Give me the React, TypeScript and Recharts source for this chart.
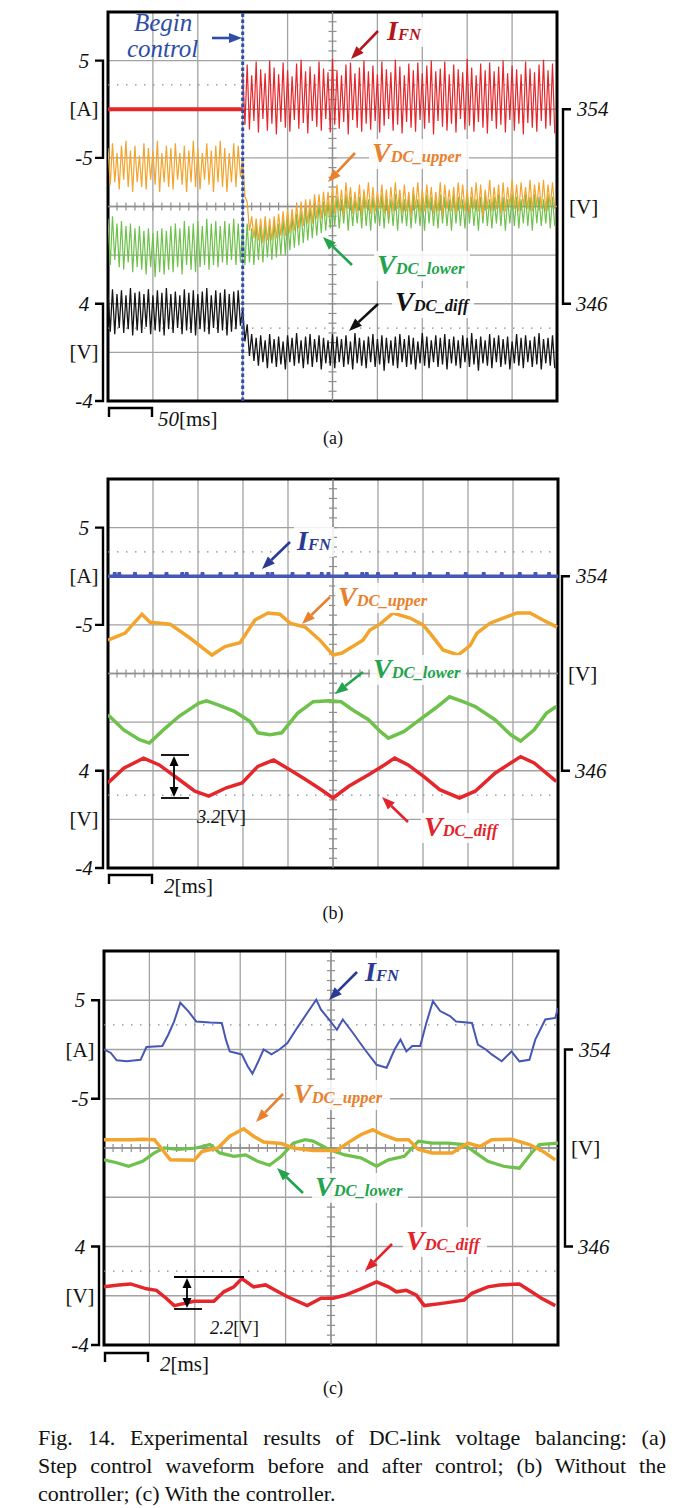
import React from "react";
import {
  LineChart,
  Line,
  XAxis,
  YAxis,
  CartesianGrid,
  ReferenceLine,
  ReferenceArea,
} from "recharts";

const SERIF = "'Liberation Serif', 'Times New Roman', serif";
const PAGE_W = 684;
const PAGE_H = 1508;

const GRID = "#a2a2a2";
const ORANGE = "#f3a42c";
const GREEN = "#6ec14b";
const RED = "#e5262b";
const BLUE = "#4657b6";
const BLACK = "#151515";

// ---------- (a) step control, 50 ms/div, one sample every 2.5 ms ----------
const A_STEP = 2.5;
const A_CONTROL = 150;

const upperBeforeA = [
  352.4, 350.9, 352.6, 351.0, 352.2, 350.7, 352.5, 351.1, 352.7, 350.8,
  352.3, 350.6, 352.5, 351.0, 352.1, 350.8, 352.6, 350.7, 352.4, 351.1,
  352.3, 350.9, 352.7, 350.6, 352.2, 351.0, 352.5, 350.8, 352.4, 350.7,
  352.6, 351.1, 352.2, 350.9, 352.5, 350.6, 352.3, 351.0, 352.7, 350.8,
  352.4, 350.7, 352.2, 351.1, 352.6, 350.9, 352.3, 350.6, 352.5, 351.0,
  352.7, 350.8, 352.4, 350.6, 352.2, 351.0, 352.6, 350.8, 352.5, 351.2,
];
const upperAfterA = [
  352.0, 350.4, 350.2, 349.0, 349.6, 348.7, 349.5, 348.6, 349.5, 348.5,
  349.6, 348.6, 349.5, 348.6, 349.6, 348.7, 349.7, 348.8, 349.8, 348.8,
  349.9, 348.9, 349.9, 349.0, 350.1, 349.1, 350.2, 349.2, 350.3, 349.3,
  350.3, 349.3, 350.5, 349.5, 350.5, 349.5, 350.6, 349.6, 350.6, 349.6,
  350.8, 349.7, 350.9, 349.8, 350.7, 349.6, 351.0, 349.9, 350.8, 349.7,
  350.6, 349.8, 350.9, 349.6, 350.7, 349.9, 351.0, 349.7, 350.8, 349.8,
  350.6, 349.9, 350.9, 349.7, 350.7, 349.6, 350.8, 349.8, 351.0, 349.9,
  350.7, 349.7, 350.9, 349.8, 350.6, 349.6, 350.8, 349.9, 351.0, 349.7,
  350.7, 349.8, 350.9, 349.9, 350.8, 349.7, 350.6, 349.8, 351.0, 349.6,
  350.9, 349.9, 350.7, 349.8, 350.8, 349.7, 351.0, 349.9, 350.9, 349.8,
  350.7, 349.7, 350.8, 349.9, 351.0, 349.8, 350.9, 349.6, 350.7, 349.9,
  351.1, 349.8, 350.8, 349.9, 350.9, 349.7, 351.0, 349.8, 350.8, 350.0,
  351.1, 349.9, 350.9, 349.8, 351.0, 350.0, 350.8, 349.9, 351.1, 349.8,
  350.9, 350.0, 351.0, 349.9, 351.1, 349.8, 350.9, 350.0, 351.0, 349.9,
];
const lowerBeforeA = [
  349.5, 347.6, 349.6, 347.8, 349.3, 347.5, 349.4, 347.4, 349.2, 347.7,
  349.3, 347.3, 349.1, 347.5, 349.2, 347.4, 349.0, 347.2, 349.1, 347.5,
  348.9, 347.1, 349.0, 347.3, 349.1, 347.2, 349.0, 347.4, 349.2, 347.3,
  349.3, 347.5, 349.1, 347.2, 349.4, 347.6, 349.2, 347.4, 349.3, 347.3,
  349.4, 347.5, 349.2, 347.6, 349.5, 347.4, 349.3, 347.6, 349.4, 347.5,
  349.2, 347.7, 349.4, 347.6, 349.3, 347.8, 349.5, 347.6, 349.3, 347.7,
];
const lowerAfterA = [
  349.2, 347.6, 349.3, 347.7, 349.1, 347.6, 349.3, 347.8, 349.2, 347.7,
  349.3, 347.9, 349.2, 347.8, 349.4, 347.9, 349.3, 348.0, 349.5, 348.0,
  349.5, 348.2, 349.6, 348.3, 349.7, 348.4, 349.8, 348.5, 349.9, 348.6,
  350.0, 348.7, 350.0, 348.8, 350.1, 348.9, 350.2, 349.0, 350.2, 349.1,
  350.3, 349.2, 350.4, 349.1, 350.3, 349.3, 350.5, 349.0, 350.4, 349.2,
  350.3, 349.3, 350.4, 349.1, 350.5, 349.2, 350.3, 349.0, 350.4, 349.3,
  350.2, 349.2, 350.5, 349.1, 350.4, 349.3, 350.3, 349.2, 350.5, 349.0,
  350.4, 349.3, 350.3, 349.2, 350.4, 349.1, 350.5, 349.3, 350.3, 349.2,
  350.4, 349.0, 350.5, 349.3, 350.4, 349.2, 350.3, 349.1, 350.5, 349.3,
  350.4, 349.2, 350.3, 349.0, 350.5, 349.3, 350.4, 349.2, 350.3, 349.1,
  350.5, 349.3, 350.4, 349.2, 350.3, 349.0, 350.4, 349.3, 350.5, 349.2,
  350.3, 349.1, 350.4, 349.3, 350.5, 349.2, 350.4, 349.0, 350.3, 349.3,
  350.5, 349.2, 350.4, 349.1, 350.3, 349.3, 350.5, 349.2, 350.4, 349.0,
  350.5, 349.3, 350.4, 349.2, 350.3, 349.3, 350.5, 349.1, 350.4, 349.2,
];
const diffBeforeA = [
  4.9, 1.7, 5.2, 1.5, 4.8, 2.0, 5.1, 1.6, 4.7, 1.9, 5.3, 1.4, 4.9, 1.8, 5.0,
  1.6, 4.8, 2.1, 5.2, 1.5, 4.7, 1.8, 5.1, 1.7, 4.9, 1.4, 5.3, 1.9, 4.8, 1.6,
  5.0, 2.0, 4.7, 1.5, 5.2, 1.8, 4.9, 1.6, 5.1, 1.4, 4.8, 1.9, 5.0, 1.7, 5.3,
  1.5, 4.7, 2.0, 5.1, 1.6, 4.9, 1.8, 5.2, 1.4, 4.8, 1.7, 5.0, 1.9, 5.1, 2.2,
];
const diffAfterA = [
  3.6, 0.9, 2.3, -0.3, 1.5, -0.7,
  1.2, -1.1, 1.4, -0.8, 1.0, -1.3, 1.5, -0.9, 1.1, -1.2,
  1.3, -1.0, 0.9, -1.4, 1.4, -0.8, 1.2, -1.1, 1.6, -0.9,
  1.0, -1.3, 1.3, -1.0, 1.5, -1.2, 1.1, -0.8, 1.4, -1.4,
  1.2, -0.9, 1.0, -1.1, 1.5, -1.3, 1.3, -0.8, 1.1, -1.2,
  1.4, -1.0, 0.9, -1.4, 1.6, -0.9, 1.2, -1.1, 1.0, -1.3,
  1.3, -0.8, 1.5, -1.2, 1.1, -1.0, 1.4, -1.5, 1.2, -0.9,
  1.0, -1.1, 1.3, -1.3, 1.5, -0.8, 1.1, -1.2, 1.4, -1.0,
  1.2, -1.4, 0.9, -0.9, 1.6, -1.1, 1.3, -1.3, 1.0, -0.8,
  1.4, -1.2, 1.2, -1.0, 1.5, -1.4, 1.1, -0.9, 1.3, -1.1,
  1.0, -1.3, 1.4, -0.8, 1.2, -1.2, 1.6, -1.0, 1.1, -1.5,
  1.3, -0.9, 1.0, -1.1, 1.5, -1.3, 1.2, -0.8, 1.4, -1.2,
  1.1, -1.0, 1.3, -1.4, 0.9, -0.9, 1.5, -1.1, 1.2, -1.3,
  1.4, -0.8, 1.0, -1.2, 1.3, -1.0, 1.6, -1.4, 1.1, -0.9,
  1.2, -1.1, 1.4, -1.3,
];
const ifnAfterA = [
  3.8, -1.6, 4.6, -2.1, 3.5, -1.2, 4.9, -2.4, 4.1, -1.0, 3.7, -2.2, 5.0, -1.5, 4.3, -2.6, 3.6, -1.3, 4.8, -1.9,
  4.0, -2.3, 3.4, -1.1, 4.7, -2.0, 5.1, -1.4, 3.9, -2.5, 4.4, -1.2, 3.6, -1.8, 4.9, -2.2, 4.2, -1.0, 3.8, -2.4,
  5.2, -1.6, 4.0, -2.0, 3.5, -1.3, 4.6, -2.6, 4.8, -1.1, 3.7, -1.9, 4.3, -2.3, 5.0, -1.5, 3.9, -2.1, 4.5, -1.2,
  3.6, -2.4, 4.9, -1.7, 4.1, -1.0, 3.8, -2.2, 5.1, -1.6, 4.4, -2.5, 3.5, -1.3, 4.7, -1.9, 4.0, -2.3, 4.8, -1.1,
  3.7, -2.0, 4.5, -1.4, 5.0, -2.6, 3.9, -1.2, 4.2, -1.8, 4.9, -2.2, 3.6, -1.5, 4.6, -2.4, 4.1, -1.0, 3.8, -2.1,
  5.2, -1.7, 4.3, -2.3, 3.5, -1.3, 4.7, -1.9, 4.0, -2.5, 4.8, -1.2, 3.9, -2.0, 4.4, -1.6, 5.0, -2.4, 3.7, -1.1,
  4.5, -2.2, 4.1, -1.5, 3.6, -2.6, 4.9, -1.4, 4.2, -1.9, 3.8, -2.3, 4.6, -1.2, 5.1, -2.0, 4.0, -1.7, 4.7, -2.5,
];

// ---------- (b) without controller, 2 ms/div ----------
const upperTimeB = [0, 0.76, 1.51, 1.87, 2.76, 3.64, 4.62, 5.2, 5.87, 6.53, 7.11, 7.64, 8.09, 8.76, 9.42, 10.0, 10.4, 11.33, 11.64, 12.09, 12.67, 13.42, 14.0, 14.31, 14.89, 15.56, 16.09, 16.4, 16.98, 17.56, 18.18, 18.76, 19.33, 19.96];
const upperVoltB = [351.37, 351.66, 352.44, 352.11, 352.03, 351.46, 350.76, 351.11, 351.27, 352.2, 352.49, 352.44, 352.07, 351.91, 351.37, 350.76, 350.84, 351.37, 351.79, 352.03, 352.49, 352.28, 352.0, 351.66, 350.97, 350.76, 351.15, 351.66, 352.07, 352.28, 352.49, 352.49, 352.2, 351.91];
const lowerTimeB = [0, 0.7, 1.4, 1.84, 2.46, 3.16, 4.04, 4.38, 4.92, 5.62, 6.32, 6.66, 7.2, 7.72, 8.42, 9.12, 9.82, 10.36, 10.88, 11.58, 12.1, 12.46, 13.16, 13.86, 14.56, 15.18, 15.78, 16.32, 17.2, 17.9, 18.34, 18.94, 19.48, 19.92];
const lowerVoltB = [348.3, 347.68, 347.28, 347.14, 347.68, 348.24, 348.78, 348.88, 348.7, 348.44, 348.02, 347.56, 347.48, 347.56, 348.36, 348.84, 348.88, 348.84, 348.5, 348.1, 347.62, 347.34, 347.62, 348.1, 348.58, 349.04, 348.84, 348.64, 348.1, 347.48, 347.22, 347.68, 348.36, 348.64];
const diffTimeB = [0, 0.7, 1.58, 2.28, 3.16, 3.86, 4.48, 5.26, 5.96, 6.66, 7.36, 8.08, 8.78, 9.48, 10.0, 10.7, 11.58, 12.28, 12.74, 13.34, 14.04, 14.74, 15.62, 16.32, 17.2, 17.9, 18.34, 18.94, 19.92];
const diffVoltB = [3.0, 4.2, 5.04, 4.48, 3.28, 2.32, 1.92, 2.6, 3.0, 4.36, 4.88, 4.08, 3.28, 2.44, 1.76, 2.72, 3.68, 4.48, 5.04, 4.48, 3.52, 2.44, 1.76, 2.32, 3.8, 4.64, 5.16, 4.64, 3.12];
const ifnBlipTimesB = [0.3, 0.5, 1.2, 1.9, 2.6, 3.3, 3.5, 4.2, 5.0, 5.7, 6.4, 7.1, 7.3, 8.2, 8.9, 9.5, 9.8, 10.6, 11.3, 11.5, 12.0, 12.8, 13.6, 14.3, 15.1, 15.9, 16.7, 17.5, 18.3, 19.0, 19.6];
const ifnBlipB = 0.4;

// ---------- (c) with controller, 2 ms/div ----------
const ifnTimeC = [0, 0.3, 0.56, 1.0, 1.61, 1.87, 2.57, 2.83, 3.09, 3.36, 3.71, 4.06, 4.67, 5.19, 5.37, 5.54, 6.07, 6.33, 6.54, 6.77, 7.03, 7.38, 7.73, 8.08, 8.51, 8.95, 9.35, 9.56, 9.91, 10.26, 10.52, 10.96, 11.49, 12.01, 12.45, 12.8, 13.06, 13.32, 13.58, 13.93, 14.2, 14.49, 14.81, 15.24, 15.51, 16.21, 16.47, 16.82, 17.08, 17.52, 17.95, 18.3, 18.74, 19.0, 19.44, 19.88, 20.0];
const ifnAmpC = [0, -0.35, -1.1, -1.2, -1.05, 0.25, 0.35, 1.5, 2.85, 4.75, 3.9, 2.85, 2.75, 2.7, 1.0, -0.2, -0.5, -1.7, -2.45, -1.35, 0, -0.5, 0, 0.65, 2.2, 3.7, 5.05, 4.05, 3.05, 2.0, 3.05, 1.7, 0, -1.55, -1.85, 0, 1.0, -0.2, 0.35, 0.35, 2.7, 4.9, 3.9, 3.4, 2.85, 2.7, 0.5, 0, -0.5, -1.2, -0.2, -1.2, -1.05, 1.0, 3.05, 3.2, 4.2];
const upperTimeC = [0, 1.17, 1.7, 2.22, 2.57, 2.92, 3.97, 4.32, 5.02, 5.54, 6.15, 6.59, 7.03, 7.81, 8.34, 9.21, 10.26, 10.79, 11.31, 11.84, 12.27, 12.88, 13.41, 13.85, 14.46, 15.33, 16.03, 16.56, 17.08, 17.95, 18.74, 19.35, 19.88];
const upperVoltC = [350.34, 350.34, 350.36, 350.34, 349.94, 349.52, 349.5, 349.86, 350.0, 350.48, 350.78, 350.48, 350.24, 350.18, 350.0, 349.9, 349.9, 350.24, 350.54, 350.74, 350.54, 350.34, 350.34, 349.94, 349.8, 349.8, 350.2, 350.06, 350.34, 350.36, 350.14, 349.86, 349.52];
const lowerTimeC = [0, 0.56, 1.08, 1.7, 2.22, 2.66, 3.27, 4.06, 4.67, 5.1, 5.72, 6.24, 6.77, 7.29, 7.81, 8.34, 8.86, 9.21, 9.91, 10.61, 11.31, 12.01, 12.53, 13.23, 13.85, 14.46, 15.16, 15.86, 16.38, 16.91, 17.6, 18.3, 18.83, 19.18, 20.0];
const lowerVoltC = [349.52, 349.4, 349.26, 349.46, 349.8, 350.0, 349.94, 350.0, 350.14, 349.8, 349.66, 349.72, 349.46, 349.3, 349.66, 350.2, 350.34, 350.28, 349.94, 349.72, 349.6, 349.26, 349.52, 349.66, 350.28, 350.2, 350.2, 350.14, 349.8, 349.46, 349.26, 349.18, 349.8, 350.14, 350.2];
const diffTimeC = [0, 0.65, 1.17, 1.87, 2.31, 2.74, 3.09, 3.97, 4.84, 5.28, 5.72, 6.07, 6.59, 7.12, 7.55, 8.08, 8.95, 9.56, 10.09, 10.61, 11.31, 12.01, 12.53, 12.88, 13.32, 13.76, 14.11, 14.81, 15.86, 16.21, 16.91, 17.43, 18.3, 18.83, 19.27, 19.88];
const diffVoltC = [0.72, 0.88, 0.96, 0.56, 0.44, -0.2, -0.8, -0.44, -0.44, 0.32, 0.72, 1.4, 0.72, 0.88, 0.44, -0.08, -0.8, -0.2, -0.2, 0.04, 0.56, 1.12, 0.72, 0.32, 0.44, 0.04, -0.8, -0.64, -0.36, 0.2, 0.72, 0.88, 0.96, 0.32, -0.2, -0.8];

const CAPTION_LINES = [
  "Fig. 14. Experimental results of DC-link voltage balancing: (a)",
  "Step control waveform before and after control; (b) Without the",
  "controller; (c) With the controller.",
];

// channel scales: 8 divisions tall, each channel with its own offset
const GRID_DOMAIN: [number, number] = [-4, 4];
const AMP_DOMAIN: [number, number] = [-30, 10]; // 5 A/div, 0 A on div +2
const VOLT_DOMAIN: [number, number] = [342, 358]; // 2 V/div, 350 V on centre
const DIFF_DOMAIN: [number, number] = [-4, 28]; // 4 V/div, 0 V on div -3

type Pt = { t: number; v: number };
const sampled = (start: number, step: number, values: number[]): Pt[] =>
  values.map((v, i) => ({ t: start + i * step, v }));
const paired = (times: number[], values: number[]): Pt[] =>
  times.map((t, i) => ({ t, v: values[i] }));

const upperA = sampled(0, A_STEP, upperBeforeA.concat(upperAfterA));
const lowerA = sampled(0, A_STEP, lowerBeforeA.concat(lowerAfterA));
const diffA = sampled(0, A_STEP, diffBeforeA.concat(diffAfterA));
const ifnFlatA: Pt[] = [{ t: 0, v: 0 }, { t: A_CONTROL, v: 0 }];
const ifnA = sampled(A_CONTROL, A_STEP, ifnAfterA);

const ifnB: Pt[] = [{ t: 0, v: 0 }];
ifnBlipTimesB.forEach((t) => ifnB.push({ t: t - 0.03, v: 0 }, { t, v: ifnBlipB }, { t: t + 0.03, v: 0 }));
ifnB.push({ t: 20, v: 0 });

type Frame = { left: number; right: number; top: number; bottom: number };
const frameA: Frame = { left: 108, right: 557, top: 12, bottom: 401 };
const frameB: Frame = { left: 108, right: 558, top: 479, bottom: 868 };
const frameC: Frame = { left: 104, right: 558, top: 951, bottom: 1345 };

const PAD = 6;

function trace(key: string, data: Pt[], axis: string, color: string, width: number) {
  return (
    <Line
      key={key}
      data={data}
      dataKey="v"
      xAxisId="t"
      yAxisId={axis}
      type="linear"
      stroke={color}
      strokeWidth={width}
      dot={false}
      activeDot={false}
      isAnimationActive={false}
    />
  );
}

function Scope({ frame, tMax, traces, marker }: { frame: Frame; tMax: number; traces: React.ReactNode[]; marker?: number }) {
  const h = frame.bottom - frame.top;
  const divT = tMax / 10;
  const midT = tMax / 2;
  const halfT = 0.09 * divT;
  const xTicks = Array.from({ length: 11 }, (_, i) => i * divT);
  const yTicks = [-4, -3, -2, -1, 0, 1, 2, 3, 4];
  const vMinor = Array.from({ length: 39 }, (_, i) => -4 + 0.2 * (i + 1));
  const hMinor = Array.from({ length: 49 }, (_, i) => 0.2 * (i + 1) * divT);
  return (
    <div style={{ position: "absolute", left: 0, top: frame.top - PAD, width: PAGE_W, height: h + 2 * PAD }}>
      <LineChart
        width={PAGE_W}
        height={h + 2 * PAD}
        margin={{ top: PAD, bottom: PAD, left: frame.left, right: PAGE_W - frame.right }}
      >
        <XAxis xAxisId="t" dataKey="t" type="number" domain={[0, tMax]} ticks={xTicks} hide allowDataOverflow />
        <YAxis yAxisId="grid" type="number" domain={GRID_DOMAIN} ticks={yTicks} hide allowDataOverflow />
        <YAxis yAxisId="amp" type="number" domain={AMP_DOMAIN} hide allowDataOverflow />
        <YAxis yAxisId="volt" type="number" domain={VOLT_DOMAIN} hide allowDataOverflow />
        <YAxis yAxisId="diff" type="number" domain={DIFF_DOMAIN} hide allowDataOverflow />
        <CartesianGrid xAxisId="t" yAxisId="grid" stroke={GRID} strokeWidth={1.3} />
        <ReferenceLine xAxisId="t" yAxisId="grid" y={2.5} stroke="#8c8c8c" strokeWidth={1.3} strokeDasharray="1.5 7.5" />
        <ReferenceLine xAxisId="t" yAxisId="grid" y={-2.5} stroke="#8c8c8c" strokeWidth={1.3} strokeDasharray="1.5 7.5" />
        <ReferenceLine xAxisId="t" yAxisId="grid" x={midT} stroke="#8f8f8f" strokeWidth={1.3} />
        <ReferenceLine xAxisId="t" yAxisId="grid" y={0} stroke="#8f8f8f" strokeWidth={1.3} />
        {vMinor.map((y, i) => (
          <ReferenceLine
            key={"vm" + i}
            xAxisId="t"
            yAxisId="grid"
            segment={[{ x: midT - halfT, y }, { x: midT + halfT, y }]}
            stroke="#8f8f8f"
            strokeWidth={1.2}
          />
        ))}
        {hMinor.map((x, i) => (
          <ReferenceLine
            key={"hm" + i}
            xAxisId="t"
            yAxisId="grid"
            segment={[{ x, y: -0.08 }, { x, y: 0.08 }]}
            stroke="#8f8f8f"
            strokeWidth={1.2}
          />
        ))}
        {traces}
        {marker !== undefined && (
          <ReferenceLine xAxisId="t" yAxisId="grid" x={marker} stroke="#2c4fae" strokeWidth={3} strokeDasharray="3.5 2.5" />
        )}
        <ReferenceArea
          xAxisId="t"
          yAxisId="grid"
          x1={0}
          x2={tMax}
          y1={-4}
          y2={4}
          fill="none"
          stroke="#000"
          strokeWidth={3}
          ifOverflow="visible"
        />
      </LineChart>
    </div>
  );
}

function Arrow({ x1, y1, x2, y2, color }: { x1: number; y1: number; x2: number; y2: number; color: string }) {
  const a = Math.atan2(y2 - y1, x2 - x1);
  const head = 13;
  const bx = x2 - head * Math.cos(a);
  const by = y2 - head * Math.sin(a);
  const px = Math.sin(a) * 5;
  const py = -Math.cos(a) * 5;
  return (
    <g>
      <line x1={x1} y1={y1} x2={bx} y2={by} stroke={color} strokeWidth={2.6} />
      <polygon points={`${x2},${y2} ${bx + px},${by + py} ${bx - px},${by - py}`} fill={color} />
    </g>
  );
}

function Sig({ x, y, main, sub, color, w }: { x: number; y: number; main: string; sub: string; color: string; w: number }) {
  return (
    <g>
      <rect x={x - 3} y={y - 23} width={w} height={30} fill="#fff" opacity={0.85} />
      <text x={x} y={y} fill={color} fontFamily={SERIF} fontStyle="italic" fontWeight="bold">
        <tspan fontSize={28}>{main}</tspan>
        <tspan fontSize={16.5}>{sub}</tspan>
      </text>
    </g>
  );
}

function AxisNotes({ frame, lx, rx, bar }: { frame: Frame; lx: number; rx: number; bar: { y: number; label: string } }) {
  const div = (frame.bottom - frame.top) / 8;
  const y = (d: number) => frame.top + (4 - d) * div;
  const base = 7;
  const cx = lx - 19;
  const txt = { fontFamily: SERIF, fontSize: 21, fill: "#111" } as const;
  return (
    <g>
      <path d={`M${lx - 8},${y(3)} H${lx} V${y(1)} H${lx - 8}`} stroke="#000" strokeWidth={2.4} fill="none" />
      <path d={`M${lx - 8},${y(-2)} H${lx} V${y(-4)} H${lx - 8}`} stroke="#000" strokeWidth={2.4} fill="none" />
      <path d={`M${rx + 8},${y(2)} H${rx} V${y(-2)} H${rx + 8}`} stroke="#000" strokeWidth={2.4} fill="none" />
      <text {...txt} x={cx} y={y(3) + base} textAnchor="middle" fontStyle="italic">5</text>
      <text {...txt} x={cx} y={y(2) + base} textAnchor="middle">[A]</text>
      <text {...txt} x={cx} y={y(1) + base} textAnchor="middle" fontStyle="italic">-5</text>
      <text {...txt} x={cx} y={y(-2) + base} textAnchor="middle" fontStyle="italic">4</text>
      <text {...txt} x={cx} y={y(-3) + base} textAnchor="middle">[V]</text>
      <text {...txt} x={cx} y={y(-4) + base} textAnchor="middle" fontStyle="italic">-4</text>
      <text {...txt} x={rx + 14} y={y(2) + base} fontStyle="italic">354</text>
      <text {...txt} x={rx + 6} y={y(0) + base}>[V]</text>
      <text {...txt} x={rx + 13} y={y(-2) + base} fontStyle="italic">346</text>
      <path
        d={`M${frame.left + 1},${bar.y + 9} V${bar.y} H${frame.left + 44} V${bar.y + 9}`}
        stroke="#000"
        strokeWidth={2.4}
        fill="none"
      />
      <text {...txt} x={frame.left + (bar.label.length > 1 ? 50 : 56)} y={bar.y + 18}>
        <tspan fontStyle="italic">{bar.label}</tspan>[ms]
      </text>
    </g>
  );
}

function Measure({ x, top, bottom, topLen, botLen, label }: { x: number; top: number; bottom: number; topLen: number; botLen: number; label: string }) {
  return (
    <g stroke="#000" strokeWidth={1.8}>
      <line x1={x - 13} y1={top} x2={x - 13 + topLen} y2={top} />
      <line x1={x - 13} y1={bottom} x2={x - 13 + botLen} y2={bottom} />
      <line x1={x} y1={top + 8} x2={x} y2={bottom - 8} />
      <polygon points={`${x},${top + 1} ${x - 4.5},${top + 11} ${x + 4.5},${top + 11}`} fill="#000" stroke="none" />
      <polygon points={`${x},${bottom - 1} ${x - 4.5},${bottom - 11} ${x + 4.5},${bottom - 11}`} fill="#000" stroke="none" />
      <text x={x + 23} y={bottom + 25} fontFamily={SERIF} fontSize={18.5} fill="#111" stroke="none">
        <tspan fontStyle="italic">{label}</tspan>[V]
      </text>
    </g>
  );
}

const LBL_ORANGE = "#e8812d";
const LBL_GREEN = "#22a34c";
const LBL_BLUE = "#2b3a94";

function Notes() {
  const sub = { fontFamily: SERIF, fontSize: 18, fill: "#111", textAnchor: "middle" } as const;
  return (
    <svg width={PAGE_W} height={PAGE_H} style={{ position: "absolute", left: 0, top: 0, pointerEvents: "none" }}>
      {/* (a) */}
      <text x={134} y={31} fontFamily={SERIF} fontStyle="italic" fontSize={25} fill="#2d4da4">Begin</text>
      <text x={127} y={57} fontFamily={SERIF} fontStyle="italic" fontSize={25} fill="#2d4da4">control</text>
      <Arrow x1={212} y1={38} x2={242} y2={38} color="#2d4fa8" />
      <Sig x={387} y={40} main="I" sub="FN" color="#b3161d" w={40} />
      <Arrow x1={378} y1={31} x2={351} y2={59} color="#b3161d" />
      <Sig x={372} y={162} main="V" sub="DC_upper" color={LBL_ORANGE} w={100} />
      <Arrow x1={355} y1={153} x2={328} y2={182} color={LBL_ORANGE} />
      <Sig x={377} y={274} main="V" sub="DC_lower" color={LBL_GREEN} w={96} />
      <Arrow x1={352} y1={265} x2={323} y2={237} color={LBL_GREEN} />
      <Sig x={395} y={311} main="V" sub="DC_diff" color="#111" w={82} />
      <Arrow x1={378} y1={304} x2={349} y2={331} color="#111" />
      <AxisNotes frame={frameA} lx={103} rx={563} bar={{ y: 408, label: "50" }} />
      <text {...sub} x={333} y={444}>(a)</text>

      {/* (b) */}
      <Sig x={297} y={550} main="I" sub="FN" color={LBL_BLUE} w={40} />
      <Arrow x1={290} y1={542} x2={262} y2={569} color={LBL_BLUE} />
      <Sig x={338} y={606} main="V" sub="DC_upper" color={LBL_ORANGE} w={100} />
      <Arrow x1={330} y1={597} x2={302} y2={624} color={LBL_ORANGE} />
      <Sig x={373} y={678} main="V" sub="DC_lower" color={LBL_GREEN} w={96} />
      <Arrow x1={363} y1={672} x2={335} y2={694} color={LBL_GREEN} />
      <Sig x={424} y={836} main="V" sub="DC_diff" color="#e3232a" w={90} />
      <Arrow x1={408} y1={822} x2={382} y2={797} color="#e3232a" />
      <Measure x={174} top={755} bottom={798} topLen={28} botLen={28} label="3.2" />
      <AxisNotes frame={frameB} lx={103} rx={562} bar={{ y: 875, label: "2" }} />
      <text {...sub} x={333} y={919}>(b)</text>

      {/* (c) */}
      <Sig x={365} y={981} main="I" sub="FN" color={LBL_BLUE} w={40} />
      <Arrow x1={357} y1={972} x2={329} y2={1000} color={LBL_BLUE} />
      <Sig x={293} y={1103} main="V" sub="DC_upper" color={LBL_ORANGE} w={100} />
      <Arrow x1={283} y1={1094} x2={256} y2={1122} color={LBL_ORANGE} />
      <Sig x={315} y={1196} main="V" sub="DC_lower" color={LBL_GREEN} w={96} />
      <Arrow x1={303} y1={1193} x2={277} y2={1168} color={LBL_GREEN} />
      <Sig x={406} y={1250} main="V" sub="DC_diff" color="#e3232a" w={84} />
      <Arrow x1={392} y1={1244} x2={365} y2={1271} color="#e3232a" />
      <Measure x={187} top={1277} bottom={1309} topLen={70} botLen={28} label="2.2" />
      <AxisNotes frame={frameC} lx={99} rx={565} bar={{ y: 1353, label: "2" }} />
      <text {...sub} x={333} y={1394}>(c)</text>
    </svg>
  );
}

export default function App() {
  return (
    <div style={{ position: "absolute", left: 0, top: 0, width: PAGE_W, height: PAGE_H, background: "#fff" }}>
      <Scope
        frame={frameA}
        tMax={500}
        marker={A_CONTROL}
        traces={[
          trace("lowA", lowerA, "volt", GREEN, 1.2),
          trace("upA", upperA, "volt", ORANGE, 1.2),
          trace("diffA", diffA, "diff", BLACK, 1.3),
          trace("ifnFlatA", ifnFlatA, "amp", RED, 4),
          trace("ifnA", ifnA, "amp", RED, 1.2),
        ]}
      />
      <Scope
        frame={frameB}
        tMax={20}
        traces={[
          trace("upB", paired(upperTimeB, upperVoltB), "volt", ORANGE, 3.5),
          trace("lowB", paired(lowerTimeB, lowerVoltB), "volt", GREEN, 3.5),
          trace("diffB", paired(diffTimeB, diffVoltB), "diff", RED, 3.5),
          trace("ifnB", ifnB, "amp", BLUE, 3.5),
        ]}
      />
      <Scope
        frame={frameC}
        tMax={20}
        traces={[
          trace("lowC", paired(lowerTimeC, lowerVoltC), "volt", GREEN, 3.2),
          trace("upC", paired(upperTimeC, upperVoltC), "volt", ORANGE, 3.5),
          trace("diffC", paired(diffTimeC, diffVoltC), "diff", RED, 3.5),
          trace("ifnC", paired(ifnTimeC, ifnAmpC), "amp", BLUE, 2),
        ]}
      />
      <Notes />
      <div
        style={{
          position: "absolute",
          left: 38,
          top: 1424,
          width: 628,
          fontFamily: SERIF,
          fontSize: 22,
          lineHeight: "28px",
          color: "#111",
        }}
      >
        {CAPTION_LINES.map((line, i) => (
          <div
            key={i}
            style={{
              textAlign: i < CAPTION_LINES.length - 1 ? "justify" : "left",
              textAlignLast: i < CAPTION_LINES.length - 1 ? "justify" : "left",
              whiteSpace: "nowrap",
            }}
          >
            {line}
          </div>
        ))}
      </div>
    </div>
  );
}
